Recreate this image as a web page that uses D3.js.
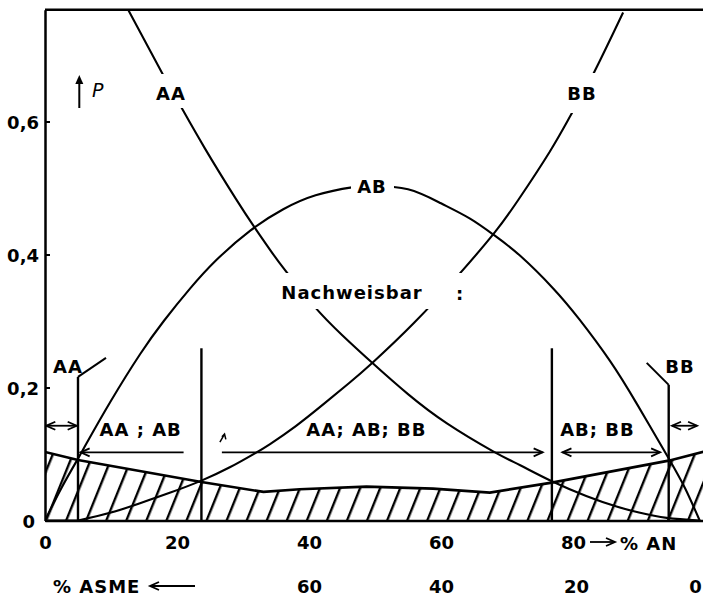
<!DOCTYPE html>
<html><head><meta charset="utf-8">
<script src="https://cdn.jsdelivr.net/npm/d3@7"></script>
<style>
body{margin:0;background:#fff}
svg{display:block}
text{font-family:"DejaVu Sans",sans-serif;font-weight:bold;font-size:18px;fill:#000}
</style>
</head><body>
<svg id="c" width="703" height="598"></svg>
<script>
// ---- data ----
// genotype frequency curves (x = % AN, value = P)
const aaX = [12.6, 17.8, 20.5, 24.2, 28.9, 31.6, 34.1, 36.4, 40.8, 45, 49.7, 55, 60.9, 67.9, 72, 76.8, 82, 86.6, 90, 94.2, 99.2];
const aaP = [0.768, 0.672, 0.624, 0.560, 0.484, 0.443, 0.407, 0.376, 0.322, 0.279, 0.236, 0.19, 0.146, 0.104, 0.083, 0.059, 0.037, 0.021, 0.012, 0.004, 0];
const abX = [0, 2.5, 5, 6.3, 10, 14.4, 18, 22, 26, 31.1, 36.1, 41, 46.5, 50, 55, 60, 64.4, 68.2, 72, 77, 81, 85.6, 89.7, 94.4, 97, 99.2];
const abP = [0, 0.049, 0.093, 0.116, 0.18, 0.25, 0.30, 0.349, 0.392, 0.436, 0.468, 0.489, 0.501, 0.503, 0.498, 0.477, 0.454, 0.428, 0.398, 0.349, 0.302, 0.24, 0.175, 0.095, 0.048, 0];
const bbX = [5, 10, 14.4, 19, 23.7, 28, 31.8, 34.1, 38, 42.2, 46, 49.7, 56, 62.9, 68.2, 71.7, 76.5, 79.8, 83, 87.6];
const bbP = [0, 0.012, 0.026, 0.042, 0.060, 0.080, 0.101, 0.115, 0.142, 0.175, 0.206, 0.238, 0.298, 0.372, 0.434, 0.482, 0.555, 0.612, 0.67, 0.764];
// detection limit (top of hatched zone)
const limX = [0, 5, 23.7, 33.1, 38.6, 48.7, 58.8, 67.4, 76.8, 94.5, 100];
const limP = [0.103, 0.091, 0.058, 0.043, 0.047, 0.051, 0.048, 0.042, 0.057, 0.090, 0.104];
// zone dividers
const divX = [5, 23.7, 76.8, 94.5];
const divTop = [0.216, 0.259, 0.259, 0.204];
// zone labels
const zoneLabels = ["AA ; AB", "AA; AB; BB", "AB; BB"];
const zoneX = [14.5, 48.7, 83.7];
// ticks
const yTicks = [0, 0.2, 0.4, 0.6];
const yTickLabels = ["0", "0,2", "0,4", "0,6"];
const xTicks = [0, 20, 40, 60, 80];
const xTickLabels = ["0", "20", "40", "60", "80"];
const asmeTicks = [40, 60, 80, 100];
const asmeTickLabels = ["60", "40", "20", "0"];

// ---- drawing ----
const W = 703, H = 598;
const svg = d3.select("#c");
const x = d3.scaleLinear().domain([0, 100]).range([45, 705]);
const y = d3.scaleLinear().domain([0, 0.768]).range([520.5, 9.8]);

const defs = svg.append("defs");
defs.append("clipPath").attr("id", "plot").append("rect")
  .attr("x", x(0)).attr("y", y(0.768)).attr("width", W - x(0)).attr("height", y(0) - y(0.768));
const pat = defs.append("pattern").attr("id", "hatch").attr("patternUnits", "userSpaceOnUse")
  .attr("width", 18.6).attr("height", 30).attr("patternTransform", "translate(6,0) rotate(22)");
pat.append("line").attr("x1", 9).attr("x2", 9).attr("y1", -2).attr("y2", 32)
  .attr("stroke", "#000").attr("stroke-width", 2.4);

const g = svg.append("g").attr("clip-path", "url(#plot)");

// hatched zone
const area = d3.area().x((d, i) => x(limX[i])).y0(y(0)).y1((d, i) => y(limP[i]));
g.append("path").datum(limX).attr("d", area).attr("fill", "url(#hatch)");
const limLine = d3.line().x((d, i) => x(limX[i])).y((d, i) => y(limP[i]));
g.append("path").datum(limX).attr("d", limLine).attr("fill", "none").attr("stroke", "#000").attr("stroke-width", 2.6);

// curves
function curve(xs, ps) {
  const ln = d3.line().curve(d3.curveNatural).x((d, i) => x(xs[i])).y((d, i) => y(ps[i]));
  g.append("path").datum(xs).attr("d", ln).attr("fill", "none").attr("stroke", "#000").attr("stroke-width", 2.1);
}
curve(aaX, aaP);
curve(abX, abP);
curve(bbX, bbP);
// flat start of BB along the axis
g.append("line").attr("x1", x(0)).attr("x2", x(5)).attr("y1", y(0)).attr("y2", y(0)).attr("stroke", "#000").attr("stroke-width", 2);

// dividers
divX.forEach((v, i) => {
  g.append("line").attr("x1", x(v)).attr("x2", x(v)).attr("y1", y(divTop[i])).attr("y2", y(0))
    .attr("stroke", "#000").attr("stroke-width", 2.4);
});
// leader ticks for outer AA / BB labels
g.append("line").attr("x1", x(divX[0])).attr("y1", y(divTop[0])).attr("x2", x(divX[0]) + 28).attr("y2", y(divTop[0]) - 19)
  .attr("stroke", "#000").attr("stroke-width", 2);
g.append("line").attr("x1", x(divX[3])).attr("y1", y(divTop[3])).attr("x2", x(divX[3]) - 22).attr("y2", y(divTop[3]) - 22)
  .attr("stroke", "#000").attr("stroke-width", 2);

// arrows
function head(px, py, dir) { // dir: 1 = pointing right, -1 = left
  g.append("path").attr("d", `M${px - dir * 9},${py - 4} L${px},${py} L${px - dir * 9},${py + 4}`)
    .attr("fill", "none").attr("stroke", "#000").attr("stroke-width", 1.8);
}
function harrow(x0, x1, yv, startHead, endHead) {
  const py = y(yv);
  g.append("line").attr("x1", x(x0)).attr("x2", x(x1)).attr("y1", py).attr("y2", py)
    .attr("stroke", "#000").attr("stroke-width", 1.8);
  if (startHead) head(x(x0), py, x0 < x1 ? -1 : 1);
  if (endHead) head(x(x1), py, x1 > x0 ? 1 : -1);
}
harrow(0.2, 4.8, 0.1425, true, true);
harrow(95.0, 98.8, 0.1425, true, true);
harrow(21.0, 5.4, 0.1025, false, true);
harrow(26.8, 75.4, 0.1025, false, true);
harrow(78.4, 93.2, 0.1025, true, true);
// small stray arrow mark
g.append("path").attr("d", `M${x(26.5)},${y(0.118)} L${x(27.2)},${y(0.13)} M${x(26.8)},${y(0.126)} L${x(27.2)},${y(0.13)} L${x(27.4)},${y(0.122)}`)
  .attr("fill", "none").attr("stroke", "#000").attr("stroke-width", 1.5);

// white gaps behind in-curve labels
function gap(x0, y0, x1, y1) {
  g.append("rect").attr("x", x0).attr("y", y0).attr("width", x1 - x0).attr("height", y1 - y0).attr("fill", "#fff");
}
gap(153, 74, 188, 108);
gap(563, 73, 598, 113);
gap(351, 175, 394, 197);
gap(279, 273, 466, 309);

// labels
function label(t, px, py) {
  return svg.append("text").attr("x", px).attr("y", py).attr("text-anchor", "middle")
    .attr("letter-spacing", 1).text(t);
}
label("AA", 171, 100);
label("BB", 582, 100);
label("AB", 372, 193);
label("Nachweisbar", 352, 299);
label(":", 460, 300);
label("AA", 68, 373);
label("BB", 680, 373);
zoneLabels.forEach((t, i) => label(t, x(zoneX[i]), y(0.127)));

// ↑ P
svg.append("line").attr("x1", 79.3).attr("x2", 79.3).attr("y1", 108).attr("y2", 80).attr("stroke", "#000").attr("stroke-width", 2);
svg.append("path").attr("d", "M75.3,84 L79.3,75 L83.3,84 Z").attr("fill", "#000");
svg.append("text").attr("x", 92).attr("y", 97).attr("font-style", "italic").style("font-weight", "normal").style("font-size", "19px").text("P");

// axes
const yAxis = d3.axisLeft(y).tickValues(yTicks).tickFormat((d, i) => yTickLabels[i])
  .tickSizeInner(-5).tickSizeOuter(0).tickPadding(6);
const ya = svg.append("g").attr("transform", `translate(${x(0)},0)`).call(yAxis);
ya.attr("font-family", null).attr("font-size", null);
ya.select(".domain").attr("stroke-width", 2.5);
ya.selectAll(".tick line").attr("stroke-width", 2);
ya.selectAll(".tick text").attr("dy", null).attr("y", 7);
ya.selectAll(".tick text").filter(d => d === 0).attr("x", -10);

const xAxis = d3.axisBottom(x).tickValues(xTicks).tickFormat((d, i) => xTickLabels[i]).tickSize(0).tickPadding(16);
const xa = svg.append("g").attr("transform", `translate(0,${y(0)})`).call(xAxis);
xa.attr("font-family", null).attr("font-size", null);
xa.select(".domain").attr("stroke-width", 2.6);

const aAxis = d3.axisBottom(x).tickValues(asmeTicks).tickFormat((d, i) => asmeTickLabels[i]).tickSize(0).tickPadding(59.5);
const aa = svg.append("g").attr("transform", `translate(0,${y(0)})`).call(aAxis);
aa.attr("font-family", null).attr("font-size", null);
aa.select(".domain").remove();
aa.selectAll(".tick text").filter(d => d === 80).attr("dx", 3);
aa.selectAll(".tick text").filter(d => d === 100).attr("dx", -10);

// top frame line
svg.append("line").attr("x1", x(0)).attr("x2", W).attr("y1", y(0.768)).attr("y2", y(0.768)).attr("stroke", "#000").attr("stroke-width", 2.5);

// axis titles with arrows
svg.append("line").attr("x1", 590).attr("x2", 614).attr("y1", 542).attr("y2", 542).attr("stroke", "#000").attr("stroke-width", 1.8);
svg.append("path").attr("d", "M606,538 L615,542 L606,546").attr("fill", "none").attr("stroke", "#000").attr("stroke-width", 1.8);
svg.append("text").attr("x", 620).attr("y", 550).attr("letter-spacing", 1).text("% AN");
svg.append("text").attr("x", 53).attr("y", 593).attr("letter-spacing", 1).text("% ASME");
svg.append("line").attr("x1", 151).attr("x2", 195).attr("y1", 586).attr("y2", 586).attr("stroke", "#000").attr("stroke-width", 1.8);
svg.append("path").attr("d", "M159,582 L150,586 L159,590").attr("fill", "none").attr("stroke", "#000").attr("stroke-width", 1.8);
</script>
</body></html>
